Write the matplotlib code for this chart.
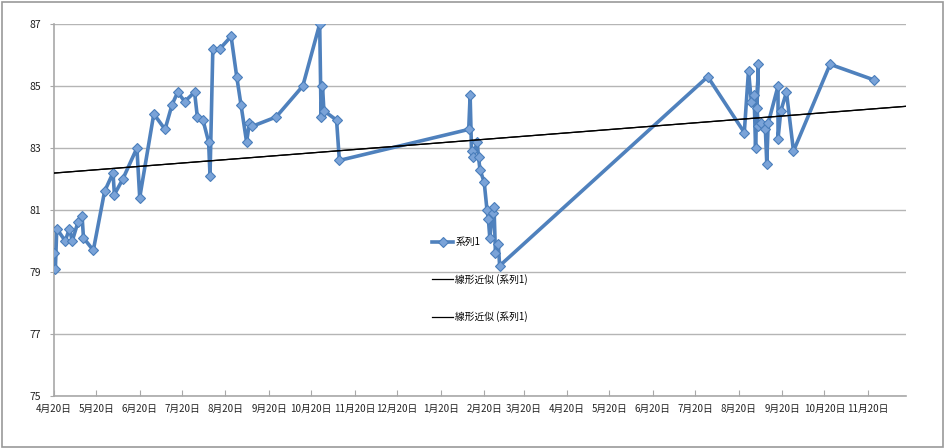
import numpy as np
import pandas as pd
import matplotlib
matplotlib.use("Agg")
import matplotlib.pyplot as plt
import matplotlib.dates as mdates
from matplotlib.patches import Rectangle

plt.rcParams['font.family'] = ['Noto Sans CJK JP', 'DejaVu Sans']

# measured series (date, value)
dates = [
    "2010-04-20", "2010-04-21", "2010-04-22", "2010-04-28", "2010-05-01", "2010-05-03",
    "2010-05-07", "2010-05-10", "2010-05-11", "2010-05-18", "2010-05-26", "2010-06-01",
    "2010-06-02", "2010-06-08", "2010-06-18", "2010-06-20", "2010-06-30", "2010-07-08",
    "2010-07-13", "2010-07-17", "2010-07-22", "2010-07-29", "2010-07-31", "2010-08-04",
    "2010-08-08", "2010-08-09", "2010-08-11", "2010-08-16", "2010-08-24", "2010-08-28",
    "2010-08-31", "2010-09-04", "2010-09-06", "2010-09-08", "2010-09-25", "2010-10-14",
    "2010-10-26", "2010-10-27", "2010-10-28", "2010-10-29", "2010-11-07", "2010-11-09",
    "2011-02-09", "2011-02-10", "2011-02-11", "2011-02-12", "2011-02-15", "2011-02-16",
    "2011-02-17", "2011-02-20", "2011-02-22", "2011-02-23", "2011-02-24", "2011-02-26",
    "2011-02-27", "2011-02-28", "2011-03-02", "2011-03-03",
    "2011-07-29", "2011-08-24", "2011-08-27", "2011-08-29", "2011-08-31", "2011-09-01",
    "2011-09-03", "2011-09-02", "2011-09-03", "2011-09-05", "2011-09-08", "2011-09-09",
    "2011-09-10", "2011-09-17", "2011-09-17", "2011-09-19", "2011-09-23", "2011-09-28",
    "2011-10-24", "2011-11-24",
]
values = [
    79.6, 79.1, 80.4, 80.0, 80.4, 80.0,
    80.6, 80.8, 80.1, 79.7, 81.6, 82.2,
    81.5, 82.0, 83.0, 81.4, 84.1, 83.6,
    84.4, 84.8, 84.5, 84.8, 84.0, 83.9,
    83.2, 82.1, 86.2, 86.2, 86.6, 85.3,
    84.4, 83.2, 83.8, 83.7, 84.0, 85.0,
    87.0, 84.0, 85.0, 84.2, 83.9, 82.6,
    83.6, 84.7, 82.9, 82.7, 83.2, 82.7,
    82.3, 81.9, 81.0, 80.7, 80.1, 80.9,
    81.1, 79.6, 79.9, 79.2,
    85.3, 83.5, 85.5, 84.5, 84.7, 83.0,
    85.7, 84.3, 83.7, 83.8, 83.6, 82.5,
    83.8, 85.0, 83.3, 84.2, 84.8, 82.9,
    85.7, 85.2,
]
x_start = "2010-04-20"
x_end = "2011-12-17"
y_ticks = [75, 77, 79, 81, 83, 85, 87]
series_name = "系列1"
trend_name = "線形近似 (系列1)"

x = pd.to_datetime(dates)
y = np.array(values)

fig = plt.figure(figsize=(9.45, 4.48), dpi=100)
ax = fig.add_axes([0.0571, 0.1161, 0.9016, 0.8303])

blue = "#4f81bd"
ax.plot(x, y, color=blue, lw=2.6, marker="D", markersize=5.5,
        markerfacecolor="#7aa3d8", markeredgecolor="#4a7ebb", markeredgewidth=0.8,
        label=series_name, zorder=3)

# linear trend on the date numbers, drawn across the whole axis
xn = mdates.date2num(x)
k, b = np.polyfit(xn, y, 1)
xl = np.array([mdates.date2num(pd.Timestamp(x_start)), mdates.date2num(pd.Timestamp(x_end))])
for i in range(2):
    ax.plot(xl, k * xl + b, color="black", lw=0.9, label=trend_name, zorder=4)

ax.set_xlim(pd.Timestamp(x_start), pd.Timestamp(x_end))
ax.set_ylim(75, 87)
ax.set_yticks(y_ticks)
ax.yaxis.grid(True, color="#b5b5b5", lw=1)
ax.set_axisbelow(True)

ax.xaxis.set_major_locator(mdates.MonthLocator(bymonthday=20))
ax.xaxis.set_major_formatter(plt.FuncFormatter(
    lambda v, p: "%d月%d日" % (mdates.num2date(v).month, mdates.num2date(v).day)))

for s in ["top", "right"]:
    ax.spines[s].set_visible(False)
for s in ["left", "bottom"]:
    ax.spines[s].set_color("#a8a8a8")
    ax.spines[s].set_linewidth(1.2)
ax.tick_params(axis="y", direction="out", length=3, color="#a8a8a8", labelsize=7.5, pad=6, labelcolor="#222222")
ax.tick_params(axis="x", direction="in", length=4, color="#a8a8a8", labelsize=7, pad=6, labelcolor="#222222")

leg = fig.legend(loc="upper left", bbox_to_anchor=(432 / 945, 1 - 237 / 448), frameon=False,
                 fontsize=7, handlelength=2.2, handletextpad=0.2, labelspacing=2.75,
                 borderpad=0, borderaxespad=0)

# chart-area border
fig.patches.append(Rectangle((0.002, 0.003), 0.996, 0.993, transform=fig.transFigure,
                             fill=False, edgecolor="#999999", lw=1.2))

fig.savefig("out.png", dpi=100)
